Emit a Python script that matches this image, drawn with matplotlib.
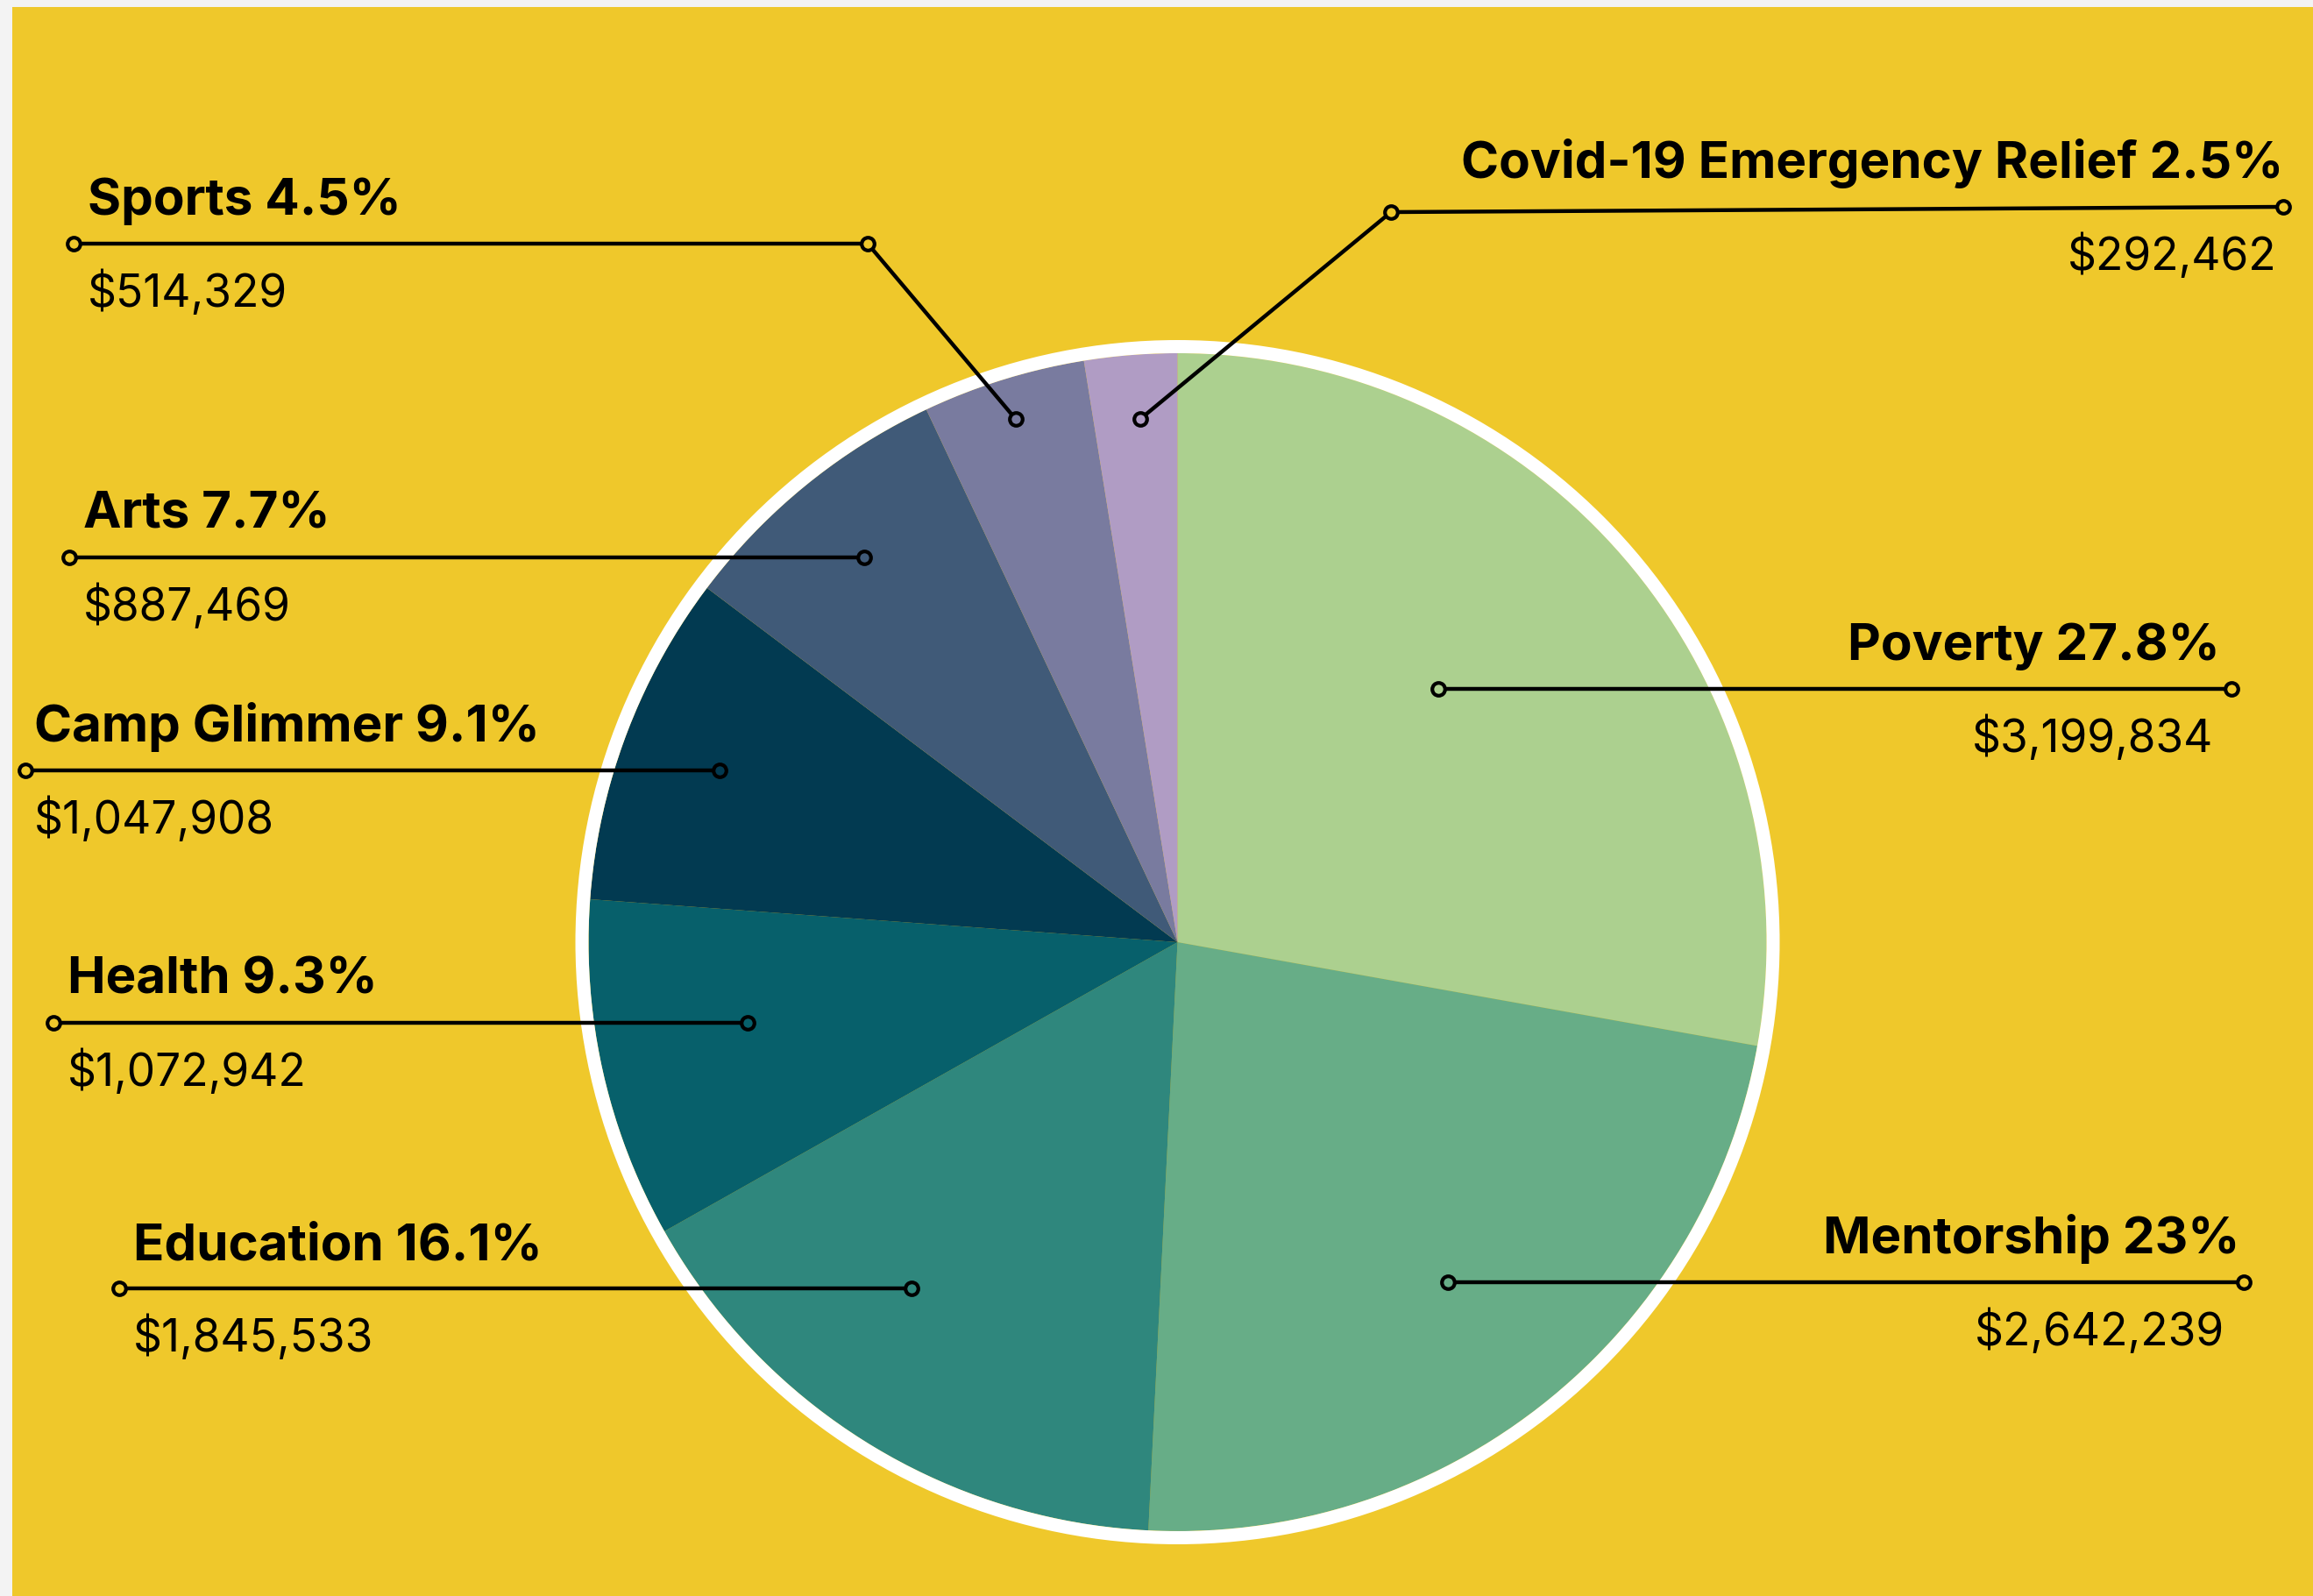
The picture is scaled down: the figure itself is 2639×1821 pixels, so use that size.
import numpy as np
import matplotlib
matplotlib.use("Agg")
import matplotlib.pyplot as plt
from matplotlib.patches import Circle, Rectangle

W, H = 2639, 1821

# ── data ──
programs = ["Poverty", "Mentorship", "Education", "Health",
            "Camp Glimmer", "Arts", "Sports", "Covid-19 Emergency Relief"]
amounts = [3199834, 2642239, 1845533, 1072942, 1047908, 887469, 514329, 292462]
pct_labels = ["27.8%", "23%", "16.1%", "9.3%", "9.1%", "7.7%", "4.5%", "2.5%"]
colors = ["#ACD08F", "#67AD87", "#2F877D", "#07606B",
          "#023A51", "#405A78", "#797B9F", "#B09CC4"]

# ── layout (pixels) ──
CENTER = (1343.5, 1075)
RADIUS = 672
YELLOW = "#EFC82B"
anchor_t = [0.457, 0.5, 0.6, 0.56, 0.5, 0.5, 0.5, 0.55]   # position inside wedge
anchor_r = [0.617, 0.738, 0.741, 0.743, 0.83, 0.843, 0.93, 0.89]
side = ["R", "R", "L", "L", "L", "L", "L", "R"]
end_x = [2546, 2560, 136, 61, 29, 79, 84, 2605]
elbows = {6: (990, 278), 7: (1587, 242)}
end_y = {6: 278, 7: 236}
label_rx = {0: 2533, 1: 2555, 7: 2605}
value_rx = {0: 2525, 1: 2538, 7: 2597}
text_dx = [0, 0, 16, 16, 10, 16, 16, 0]

LABEL_FONT = dict(family=["Inter", "DejaVu Sans"], fontweight="bold", fontsize=42)
VALUE_FONT = dict(family=["Inter", "DejaVu Sans"], fontsize=37)

fig = plt.figure(figsize=(W / 100, H / 100), dpi=100)
fig.patch.set_facecolor("#F3F3F3")
ax = fig.add_axes([0, 0, 1, 1])

wedges, _ = ax.pie(amounts, colors=colors, startangle=-90, counterclock=True,
                   radius=RADIUS, center=CENTER,
                   wedgeprops=dict(edgecolor="none", linewidth=0))
ax.set_xlim(0, W)
ax.set_ylim(H, 0)
ax.axis("off")

ax.add_patch(Rectangle((14, 8), W, H, facecolor=YELLOW, edgecolor="none", zorder=0))
ax.add_patch(Circle(CENTER, RADIUS + 7.5, fill=False, edgecolor="white",
                    linewidth=10.8, zorder=2))

mk = dict(marker="o", markersize=10.5, markeredgewidth=3, markeredgecolor="black",
          linestyle="none", zorder=5)

for i, w in enumerate(wedges):
    th = np.deg2rad(w.theta1 + anchor_t[i] * (w.theta2 - w.theta1))
    axp = CENTER[0] + anchor_r[i] * RADIUS * np.cos(th)
    ayp = CENTER[1] + anchor_r[i] * RADIUS * np.sin(th)

    ly = end_y.get(i, ayp)
    xs, ys = [axp], [ayp]
    if i in elbows:
        xs.append(elbows[i][0])
        ys.append(elbows[i][1])
    xs.append(end_x[i])
    ys.append(ly)
    ax.plot(xs, ys, color="black", linewidth=3.2, solid_capstyle="butt", zorder=4)

    ax.plot([axp], [ayp], markerfacecolor=colors[i], **mk)
    ax.plot(xs[1:], ys[1:], markerfacecolor=YELLOW, **mk)

    label = f"{programs[i]} {pct_labels[i]}"
    value = f"${amounts[i]:,}"
    if side[i] == "L":
        tx = end_x[i] + text_dx[i]
        ax.text(tx, ly - 33, label, ha="left", va="baseline", **LABEL_FONT)
        ax.text(tx, ly + 72, value, ha="left", va="baseline", **VALUE_FONT)
    else:
        ax.text(label_rx[i], ly - 33, label, ha="right", va="baseline", **LABEL_FONT)
        ax.text(value_rx[i], ly + 72, value, ha="right", va="baseline", **VALUE_FONT)

fig.savefig("out.png", dpi=100, facecolor=fig.get_facecolor())
